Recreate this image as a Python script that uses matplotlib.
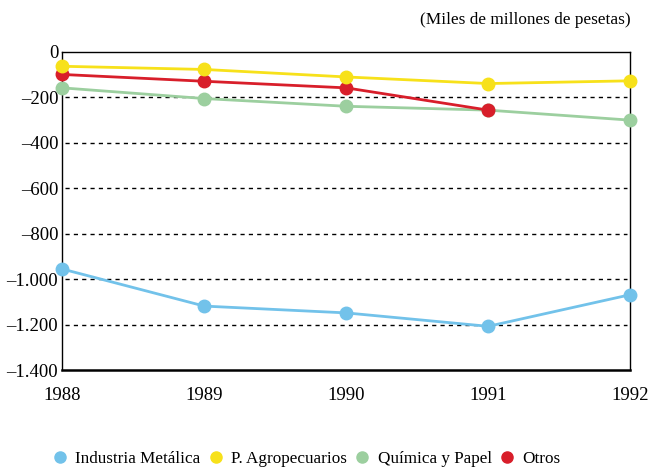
import matplotlib
matplotlib.use("Agg")
from matplotlib import pyplot as plt
from matplotlib.lines import Line2D
from matplotlib.ticker import FuncFormatter

# Datos (miles de millones de pesetas)
anios = [1988, 1989, 1990, 1991, 1992]
industria_metalica = [-955, -1118, -1148, -1207, -1068]
agropecuarios = [-63, -77, -110, -139, -127]
quimica_papel = [-158, -205, -239, -256, -300]
otros_anios = [1988, 1989, 1990, 1991]
otros = [-99, -129, -158, -256]

nombres = ["Industria Metálica", "P. Agropecuarios", "Química y Papel", "Otros"]
colores = ["#72c2ea", "#f7e11a", "#9ccf9f", "#d81e2a"]

plt.rcParams["font.family"] = ["Liberation Serif", "DejaVu Serif"]

fig = plt.figure(figsize=(6.49, 4.68), dpi=100)
ax = fig.add_axes([0.096, 0.209, 0.875, 0.68])

# líneas de referencia discontinuas
for nivel in [-200, -400, -600, -800, -1000, -1200]:
    ax.axhline(nivel, xmin=0.005, xmax=0.995, color="black",
               linestyle=(0, (3, 3)), linewidth=1, zorder=1)

series = [
    (anios, quimica_papel, colores[2]),
    (otros_anios, otros, colores[3]),
    (anios, agropecuarios, colores[1]),
    (anios, industria_metalica, colores[0]),
]
for x, y, c in series:
    ax.plot(x, y, color=c, linewidth=2, marker="o", markersize=9,
            clip_on=False, zorder=3)

ax.set_xlim(1988, 1992)
ax.set_ylim(-1400, 0)
ax.set_xticks(anios)
ax.set_yticks(range(-1400, 1, 200))
ax.yaxis.set_major_formatter(FuncFormatter(
    lambda v, p: "0" if v == 0 else "\u2013" + f"{abs(int(v)):,}".replace(",", ".")))
ax.tick_params(axis="both", length=0, labelsize=13.5)
ax.tick_params(axis="x", pad=12)
ax.tick_params(axis="y", pad=3)

for lado in ["top", "right", "left"]:
    ax.spines[lado].set_linewidth(1)
ax.spines["bottom"].set_linewidth(1.8)

fig.text(0.972, 0.958, "(Miles de millones de pesetas)", ha="right",
         va="center", fontsize=12.4)

manejadores = [Line2D([], [], linestyle="none", marker="o", markersize=8,
                      color=c) for c in colores]
fig.legend(manejadores, nombres, loc="center", bbox_to_anchor=(0.47, 0.02),
           ncol=4, frameon=False, fontsize=12.3, handletextpad=0.3,
           columnspacing=0.3, handlelength=1.2)

fig.savefig("out.png", dpi=100, facecolor="white")
